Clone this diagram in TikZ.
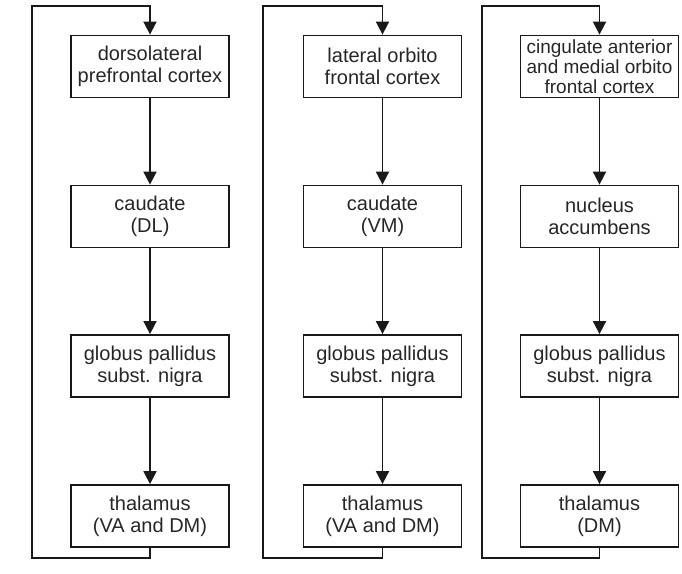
\documentclass[tikz,border=0pt]{standalone}
\usepackage{fontspec}
\setmainfont{Liberation Sans}
\usetikzlibrary{arrows.meta}
\tikzset{>={Triangle[width=13pt,length=13pt]}}
\tikzset{
  area/.style = {draw=black!90, line width=1.8pt, text=black!85,
    minimum width=158pt, minimum height=62pt, inner sep=0pt,
    align=center, font=\fontsize{20}{22}\selectfont},
  flow/.style = {->, draw=black!90, line width=1.8pt}
}
\begin{document}
\begin{tikzpicture}[x=1pt, y=-1pt]
    \useasboundingbox (0,0) rectangle (682,573);
    % dorsolateral loop
    \node[area] (dlpfc) at (150,66.5) {dorsolateral\\prefrontal cortex};
    \node[area] (dlcaud) at (150,216.5) {caudate\\(DL)};
    \node[area] (dlgp) at (150,366) {globus pallidus\\subst. nigra};
    \node[area] (dlthal) at (150,516) {thalamus\\(VA and DM)};
    \coordinate (dlbot) at (32,558);
    \coordinate (dltop) at (32,6);
    \draw[flow] (dlpfc) -- (dlcaud);
    \draw[flow] (dlcaud) -- (dlgp);
    \draw[flow] (dlgp) -- (dlthal);
    \draw[flow] (dlthal.south) |- (dlbot) -- (dltop) -| (dlpfc.north);
    % lateral orbitofrontal loop
    \node[area] (lofc) at (382.5,66.5) {lateral orbito\\frontal cortex};
    \node[area] (vmcaud) at (382.5,216.5) {caudate\\(VM)};
    \node[area] (vmgp) at (382.5,366) {globus pallidus\\subst. nigra};
    \node[area] (vmthal) at (382.5,516) {thalamus\\(VA and DM)};
    \coordinate (vmbot) at (263,558);
    \coordinate (vmtop) at (263,6);
    \draw[flow] (lofc) -- (vmcaud);
    \draw[flow] (vmcaud) -- (vmgp);
    \draw[flow] (vmgp) -- (vmthal);
    \draw[flow] (vmthal.south) |- (vmbot) -- (vmtop) -| (lofc.north);
    % anterior cingulate loop
    \node[area, font=\fontsize{19}{20}\selectfont] (acc) at (599.5,66.5) {cingulate anterior\\and medial orbito\\frontal cortex};
    \node[area] (nacc) at (599.5,216.5) {nucleus\\accumbens};
    \node[area] (acgp) at (599.5,366) {globus pallidus\\subst. nigra};
    \node[area] (acthal) at (599.5,516) {thalamus\\(DM)};
    \coordinate (acbot) at (482,558);
    \coordinate (actop) at (482,6);
    \draw[flow] (acc) -- (nacc);
    \draw[flow] (nacc) -- (acgp);
    \draw[flow] (acgp) -- (acthal);
    \draw[flow] (acthal.south) |- (acbot) -- (actop) -| (acc.north);
\end{tikzpicture}
\end{document}
